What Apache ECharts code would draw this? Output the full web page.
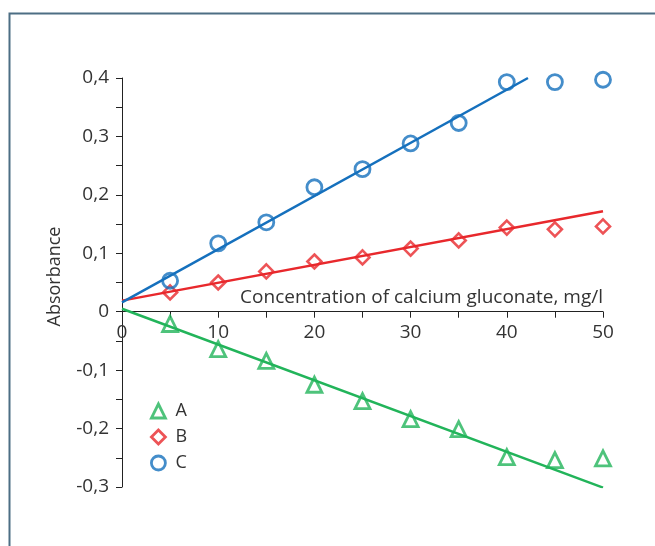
<!DOCTYPE html>
<html><head><meta charset="utf-8">
<script src="https://cdn.jsdelivr.net/npm/echarts@6/dist/echarts.min.js"></script>
<style>html,body{margin:0;padding:0;background:#fff}#c{width:655px;height:546px}</style>
</head><body><div id="c"></div>
<script>
const xValues = [5, 10, 15, 20, 25, 30, 35, 40, 45, 50];
const seriesA = [-0.021, -0.064, -0.084, -0.125, -0.153, -0.184, -0.201, -0.249, -0.254, -0.251];
const seriesB = [0.033, 0.050, 0.069, 0.086, 0.093, 0.108, 0.122, 0.144, 0.141, 0.146];
const seriesC = [0.053, 0.117, 0.153, 0.213, 0.244, 0.288, 0.323, 0.393, 0.393, 0.397];
const fitA = [[0, 0.005], [50, -0.301]];
const fitB = [[0, 0.019], [50, 0.172]];
const fitC = [[0, 0.016], [42.2, 0.400]];
const names = ['A', 'B', 'C'];
const xTicks = [0, 10, 20, 30, 40, 50];
const yTicks = [-0.3, -0.2, -0.1, 0, 0.1, 0.2, 0.3, 0.4];

const colA = '#22b45a', colB = '#e8282c', colC = '#1570bd';
const font = 'Open Sans';
const fs = 19;
const pts = v => xValues.map((x, i) => [x, v[i]]);
const fmt = v => Math.abs(v) < 1e-9 ? '0' : v.toFixed(1).replace('.', ',');

const gridTop = 78, gridBottom = 59, H = 546;
const yMin = yTicks[0], yMax = yTicks[yTicks.length - 1];
const plotH = H - gridTop - gridBottom;
// move x axis (line, ticks, labels) up to the y = 0 level
const zeroOffset = -plotH * (0 - yMin) / (yMax - yMin);

const chart = echarts.init(document.getElementById('c'), null, {renderer: 'canvas'});
chart.setOption({
  animation: false,
  backgroundColor: '#fff',
  textStyle: {fontFamily: font},
  grid: {left: 122, right: 52, top: gridTop, bottom: gridBottom, containLabel: false},
  graphic: [{
    type: 'rect', shape: {x: 9.5, y: 13.5, width: 700, height: 600},
    style: {fill: 'none', stroke: '#4d6e84', lineWidth: 2}, z: 100
  }],
  legend: {
    orient: 'vertical', left: 150, top: 402, itemGap: 8, itemWidth: 14, itemHeight: 14, padding: 0,
    data: [
      {name: 'A', itemStyle: {borderWidth: 2.8}},
      {name: 'B', itemStyle: {borderWidth: 2.8}},
      {name: 'C', itemStyle: {borderWidth: 2.8}}
    ],
    textStyle: {fontFamily: font, fontSize: fs - 1, color: '#333', padding: [0, 0, 0, 5]}
  },
  xAxis: {
    type: 'value', min: xTicks[0], max: xTicks[xTicks.length - 1], interval: 10,
    position: 'bottom', offset: zeroOffset,
    axisLine: {onZero: false, lineStyle: {color: '#222', width: 1}},
    axisTick: {show: true, length: 6, lineStyle: {color: '#222'}},
    minorTick: {show: true, splitNumber: 2, length: 6, lineStyle: {color: '#222'}},
    splitLine: {show: false},
    axisLabel: {fontFamily: font, fontSize: fs, color: '#333', margin: 11, formatter: v => String(v)},
    name: 'Concentration of calcium gluconate, mg/l',
    nameLocation: 'end', nameGap: 0,
    nameTextStyle: {fontFamily: font, fontSize: fs, color: '#333', align: 'right', verticalAlign: 'bottom', padding: [0, 0, 5, 0]}
  },
  yAxis: {
    type: 'value', min: yMin, max: yMax, interval: 0.1,
    axisLine: {show: true, lineStyle: {color: '#222', width: 1}},
    axisTick: {show: true, length: 6, lineStyle: {color: '#222'}},
    minorTick: {show: true, splitNumber: 2, length: 6, lineStyle: {color: '#222'}},
    splitLine: {show: false},
    axisLabel: {fontFamily: font, fontSize: fs, color: '#333', margin: 13, formatter: fmt},
    name: 'Absorbance', nameLocation: 'middle', nameGap: 58,
    nameTextStyle: {fontFamily: font, fontSize: fs - 1, color: '#333', padding: [0, 0, 0, 12]}
  },
  series: [
    {type: 'line', data: fitA, showSymbol: false, lineStyle: {color: colA, width: 2.5}, itemStyle: {color: colA}, silent: true, z: 1},
    {type: 'line', data: fitB, showSymbol: false, lineStyle: {color: colB, width: 2.5}, itemStyle: {color: colB}, silent: true, z: 1},
    {type: 'line', data: fitC, showSymbol: false, lineStyle: {color: colC, width: 2.5}, itemStyle: {color: colC}, silent: true, z: 1},
    {name: 'A', type: 'scatter', data: pts(seriesA), symbol: 'triangle', symbolSize: 15,
     itemStyle: {color: 'rgba(255,255,255,0)', borderColor: colA, borderWidth: 2.8}, z: 3},
    {name: 'B', type: 'scatter', data: pts(seriesB), symbol: 'diamond', symbolSize: 14,
     itemStyle: {color: 'rgba(255,255,255,0)', borderColor: colB, borderWidth: 2.6}, z: 3},
    {name: 'C', type: 'scatter', data: pts(seriesC), symbol: 'circle', symbolSize: 15,
     itemStyle: {color: 'rgba(255,255,255,0)', borderColor: colC, borderWidth: 2.8}, z: 3}
  ]
});
</script></body></html>
